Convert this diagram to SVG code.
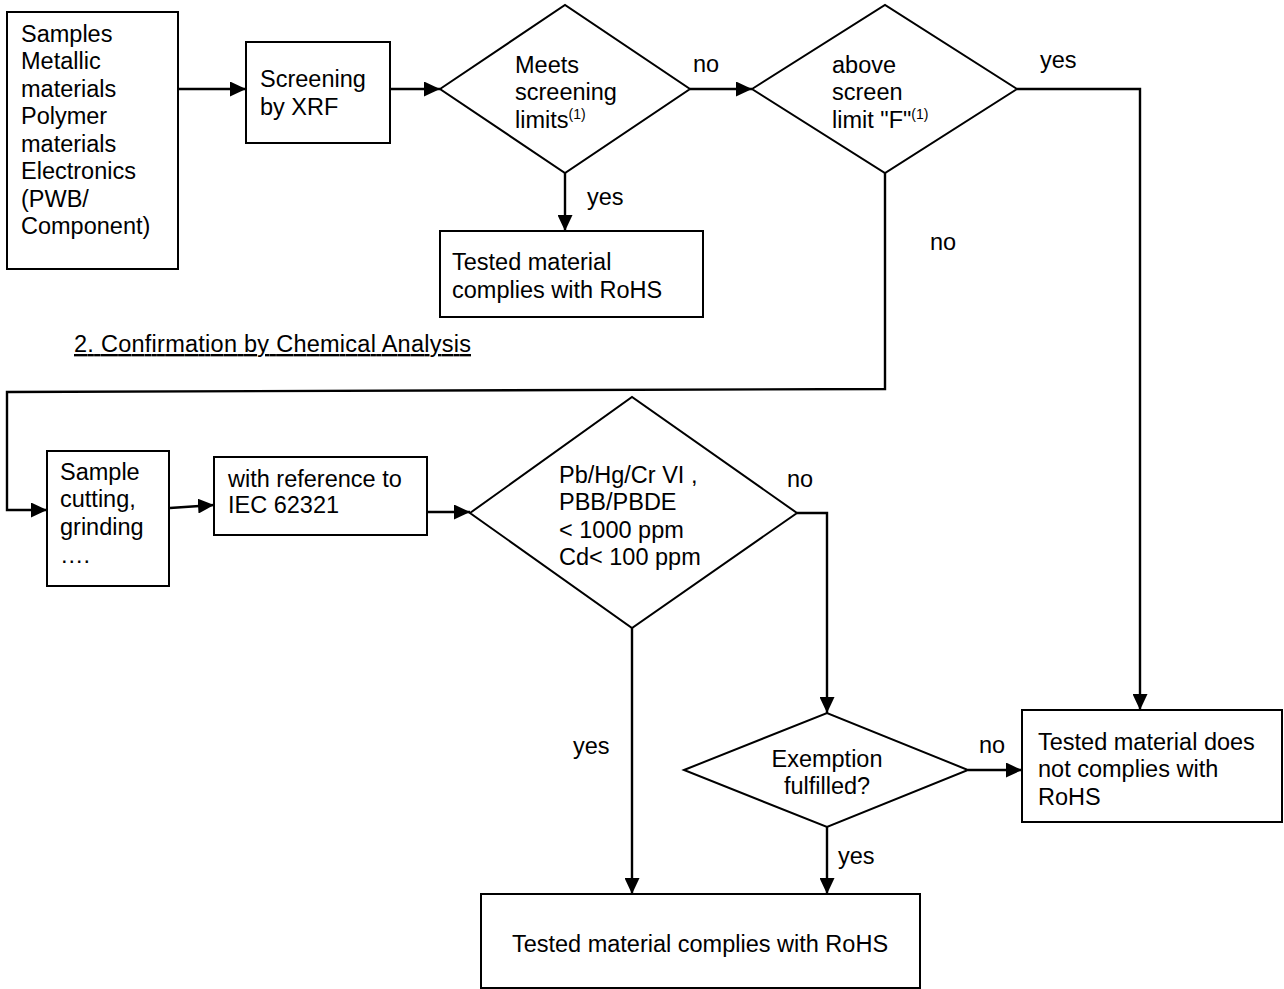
<svg xmlns="http://www.w3.org/2000/svg" width="1284" height="989" viewBox="0 0 1284 989">
<style>
text{font-family:"Liberation Sans",Arial,Helvetica,sans-serif;font-size:23.5px;fill:#000}
.sup{font-size:14px}
.box{fill:#fff;stroke:#000;stroke-width:2}
.conn{fill:none;stroke:#000;stroke-width:2.4}
</style>
<defs>
<marker id="ah" markerUnits="userSpaceOnUse" markerWidth="17" markerHeight="15" refX="16" refY="7.5" orient="auto">
<path d="M0,0 L16,7.5 L0,15 z" fill="#000"/>
</marker>
</defs>
<rect width="1284" height="989" fill="#fff"/>
<g id="connectors">
<line class="conn" x1="179" y1="89" x2="246" y2="89" marker-end="url(#ah)"/>
<line class="conn" x1="391" y1="89" x2="440" y2="89" marker-end="url(#ah)"/>
<line class="conn" x1="690" y1="89" x2="752" y2="89" marker-end="url(#ah)"/>
<line class="conn" x1="565" y1="173" x2="565" y2="231" marker-end="url(#ah)"/>
<polyline class="conn" points="1017,89 1140,89 1140,710" marker-end="url(#ah)"/>
<polyline class="conn" points="885,173 885,389 7,392 7,510 47,510" marker-end="url(#ah)"/>
<line class="conn" x1="170" y1="508" x2="214" y2="505" marker-end="url(#ah)"/>
<line class="conn" x1="427" y1="512" x2="470" y2="512" marker-end="url(#ah)"/>
<polyline class="conn" points="797,513 827,513 827,713" marker-end="url(#ah)"/>
<line class="conn" x1="632" y1="628" x2="632" y2="894" marker-end="url(#ah)"/>
<line class="conn" x1="968" y1="770" x2="1022" y2="770" marker-end="url(#ah)"/>
<line class="conn" x1="827" y1="827" x2="827" y2="894" marker-end="url(#ah)"/>
<text x="693" y="72">no</text>
<text x="1040" y="68">yes</text>
<text x="587" y="205">yes</text>
<text x="930" y="250">no</text>
<text x="787" y="487">no</text>
<text x="573" y="754">yes</text>
<text x="979" y="753">no</text>
<text x="838" y="864">yes</text>
</g>
<g id="samples">
<rect class="box" x="7" y="12" width="171" height="257"/>
<text x="21" y="42">Samples</text>
<text x="21" y="69">Metallic</text>
<text x="21" y="97">materials</text>
<text x="21" y="124">Polymer</text>
<text x="21" y="152">materials</text>
<text x="21" y="179">Electronics</text>
<text x="21" y="207">(PWB/</text>
<text x="21" y="234">Component)</text>
</g>
<g id="screening">
<rect class="box" x="246" y="42" width="144" height="101"/>
<text x="260" y="87">Screening</text>
<text x="260" y="115">by XRF</text>
</g>
<g id="meets">
<polygon class="box" points="440,89 565,5 690,89 565,173"/>
<text x="515" y="73">Meets</text>
<text x="515" y="100">screening</text>
<text x="515" y="128">limits<tspan class="sup" dy="-9">(1)</tspan></text>
</g>
<g id="above">
<polygon class="box" points="752,89 885,5 1017,89 885,173"/>
<text x="832" y="73">above</text>
<text x="832" y="100">screen</text>
<text x="832" y="128">limit "F"<tspan class="sup" dy="-9">(1)</tspan></text>
</g>
<g id="complies1">
<rect class="box" x="440" y="231" width="263" height="86"/>
<text x="452" y="270">Tested material</text>
<text x="452" y="298">complies with RoHS</text>
</g>
<g id="heading">
<text x="74" y="352" text-decoration="underline" textLength="397">2. Confirmation by Chemical Analysis</text>
</g>
<g id="cutting">
<rect class="box" x="47" y="451" width="122" height="135"/>
<text x="60" y="480">Sample</text>
<text x="60" y="507">cutting,</text>
<text x="60" y="535">grinding</text>
<text x="60" y="563">….</text>
</g>
<g id="iec">
<rect class="box" x="214" y="457" width="213" height="78"/>
<text x="228" y="487">with reference to</text>
<text x="228" y="513">IEC 62321</text>
</g>
<g id="limits">
<polygon class="box" points="470,513 632,397 797,513 632,628"/>
<text x="559" y="483">Pb/Hg/Cr VI ,</text>
<text x="559" y="510">PBB/PBDE</text>
<text x="559" y="538">&lt; 1000 ppm</text>
<text x="559" y="565">Cd&lt; 100 ppm</text>
</g>
<g id="exemption">
<polygon class="box" points="684,770 827,713 968,770 827,827"/>
<text x="827" y="767" text-anchor="middle">Exemption</text>
<text x="827" y="794" text-anchor="middle">fulfilled?</text>
</g>
<g id="notcomply">
<rect class="box" x="1022" y="710" width="260" height="112"/>
<text x="1038" y="750">Tested material does</text>
<text x="1038" y="777">not complies with</text>
<text x="1038" y="805">RoHS</text>
</g>
<g id="complies2">
<rect class="box" x="481" y="894" width="439" height="94"/>
<text x="700" y="952" text-anchor="middle">Tested material complies with RoHS</text>
</g>
</svg>
